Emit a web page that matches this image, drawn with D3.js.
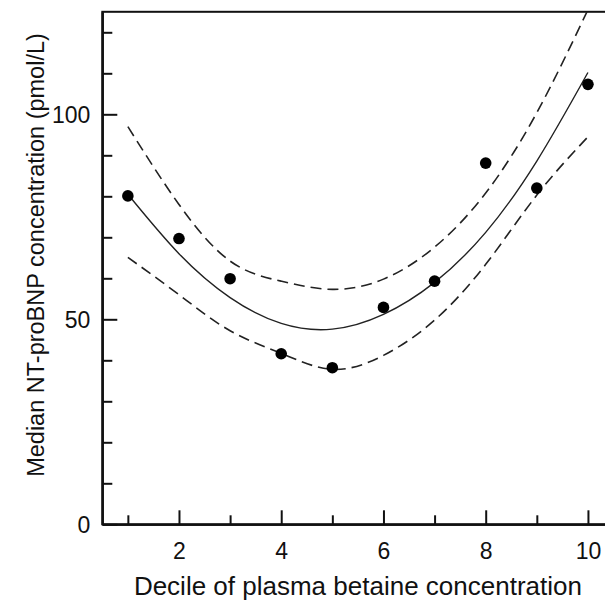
<!DOCTYPE html>
<html>
<head>
<meta charset="utf-8">
<script src="https://cdn.jsdelivr.net/npm/d3@7"></script>
<style>
  html, body { margin: 0; padding: 0; background: #fff; }
  svg { display: block; }
  text { font-family: "Liberation Sans", Arial, Helvetica, sans-serif; fill: #111; }
</style>
</head>
<body>
<svg id="chart" width="605" height="602"></svg>
<script>
// ---- data ----
const deciles = [1, 2, 3, 4, 5, 6, 7, 8, 9, 10];
const medianNTproBNP = [80.1, 69.7, 59.9, 41.6, 38.2, 52.9, 59.3, 88.1, 82.0, 107.3];

// fitted curve and its confidence band, read at each decile
const fitX = [1, 2, 3, 4, 5, 6, 7, 8, 9, 10];
const fitY = [80.5, 66.0, 55.3, 49.0, 47.6, 51.2, 59.0, 71.2, 88.6, 110.2];
const upperY = [97.0, 78.0, 64.2, 59.3, 57.3, 59.8, 67.6, 80.8, 100.4, 125.5];
const lowerY = [65.1, 56.0, 47.2, 41.7, 37.8, 41.2, 49.8, 63.4, 80.3, 94.5];

const xMajorTicks = [2, 4, 6, 8, 10];
const xMinorTicks = [1, 3, 5, 7, 9];
const yMajorTicks = [0, 50, 100];
const yMinorTicks = [10, 20, 30, 40, 60, 70, 80, 90, 110, 120];

const xTitle = "Decile of plasma betaine concentration";
const yTitle = "Median NT-proBNP concentration (pmol/L)";

// ---- layout ----
const svg = d3.select("#chart");
const mLeft = 102.3, mRight = 613.5, mTop = 11.8, mBottom = 524.3;

const x = d3.scaleLinear().domain([0.5, 10.5]).range([mLeft, mRight]);
const y = d3.scaleLinear().domain([0, 125]).range([mBottom, mTop]);

svg.append("defs").append("clipPath").attr("id", "plotclip")
  .append("rect").attr("x", mLeft).attr("y", mTop)
  .attr("width", mRight - mLeft).attr("height", mBottom - mTop);

// frame (top / right)
svg.append("rect")
  .attr("x", mLeft).attr("y", mTop)
  .attr("width", mRight - mLeft).attr("height", mBottom - mTop)
  .attr("fill", "none").attr("stroke", "#111").attr("stroke-width", 2);

// x axis
svg.append("g").attr("transform", `translate(0,${mBottom})`)
  .call(d3.axisBottom(x).tickValues(xMinorTicks).tickSize(-9).tickSizeOuter(0).tickFormat(""));
const gxMajor = svg.append("g").attr("transform", `translate(0,${mBottom})`)
  .call(d3.axisBottom(x).tickValues(xMajorTicks).tickSize(-14).tickSizeOuter(0));
gxMajor.selectAll("text").attr("y", 35).attr("dy", 0).style("font-size", "23px");

// y axis
svg.append("g").attr("transform", `translate(${mLeft},0)`)
  .call(d3.axisLeft(y).tickValues(yMinorTicks).tickSize(-10).tickSizeOuter(0).tickFormat(""));
const gyMajor = svg.append("g").attr("transform", `translate(${mLeft},0)`)
  .call(d3.axisLeft(y).tickValues(yMajorTicks).tickSize(-15).tickSizeOuter(0).tickPadding(12));
gyMajor.selectAll("text").attr("dy", "0.35em").style("font-size", "23px");

svg.selectAll(".domain, .tick line").attr("stroke", "#111").attr("stroke-width", 2);
svg.selectAll(".tick text").attr("fill", "#111");

// curves
const plot = svg.append("g").attr("clip-path", "url(#plotclip)");
const lineOf = vals => d3.line()
  .x((d, i) => x(fitX[i]))
  .y(d => y(d))
  .curve(d3.curveNatural)(vals);

plot.append("path").attr("d", lineOf(upperY))
  .attr("fill", "none").attr("stroke", "#222").attr("stroke-width", 1.6)
  .attr("stroke-dasharray", "11,6");
plot.append("path").attr("d", lineOf(lowerY))
  .attr("fill", "none").attr("stroke", "#222").attr("stroke-width", 1.6)
  .attr("stroke-dasharray", "11,6");
plot.append("path").attr("d", lineOf(fitY))
  .attr("fill", "none").attr("stroke", "#222").attr("stroke-width", 1.4);

// points
svg.append("g").selectAll("circle")
  .data(deciles)
  .join("circle")
  .attr("cx", d => x(d))
  .attr("cy", (d, i) => y(medianNTproBNP[i]))
  .attr("r", 5.8)
  .attr("fill", "#000");

// titles
svg.append("text")
  .attr("x", (mLeft + mRight) / 2).attr("y", 595)
  .attr("text-anchor", "middle").style("font-size", "26px")
  .text(xTitle);
svg.append("text")
  .attr("transform", `translate(44,255) rotate(-90)`)
  .attr("text-anchor", "middle").style("font-size", "23.5px")
  .text(yTitle);
</script>
</body>
</html>
